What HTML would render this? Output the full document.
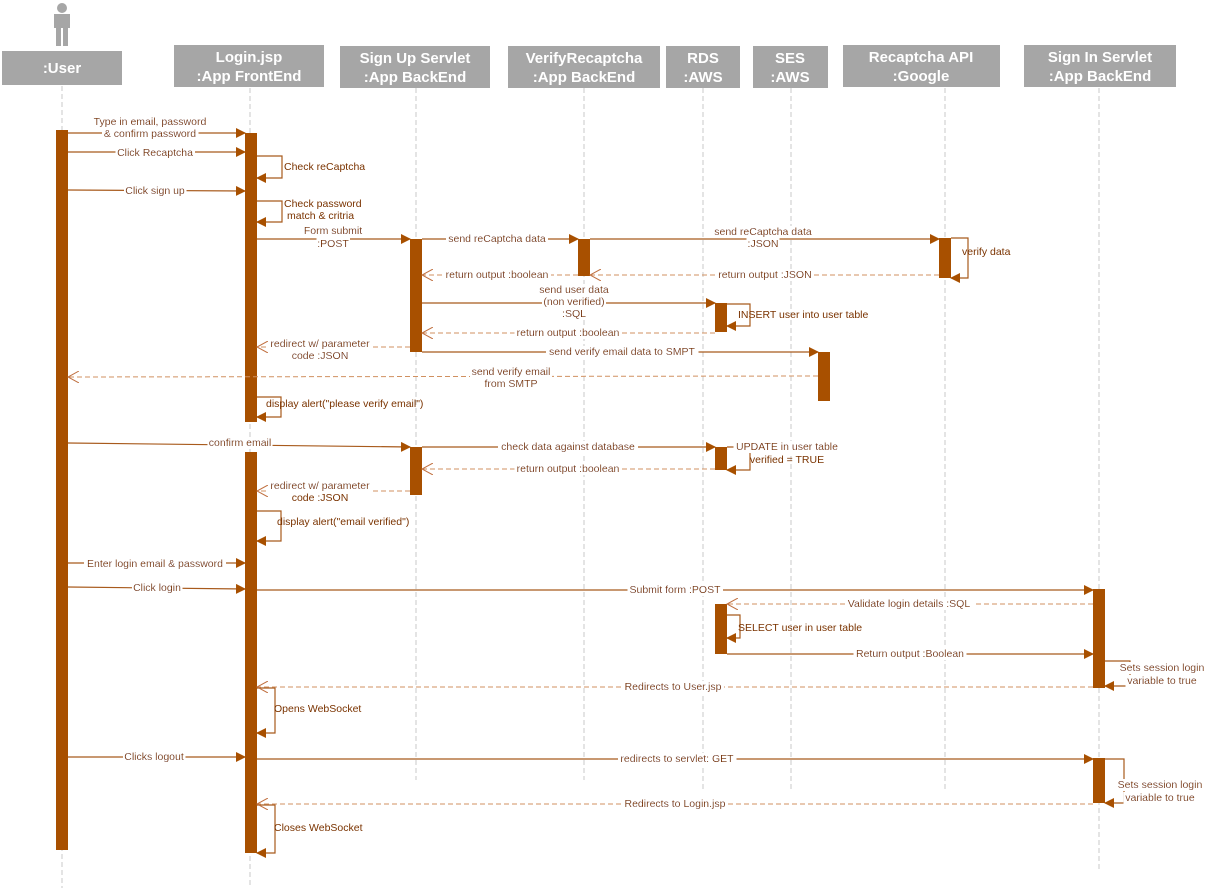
<!DOCTYPE html>
<html><head><meta charset="utf-8"><style>
html,body{margin:0;padding:0;background:#fff}
svg{display:block}
.h{font:bold 15px "Liberation Sans",sans-serif;fill:#fff;text-anchor:middle}
.t text{font:10.5px "Liberation Sans",sans-serif;fill:#7a3300;text-anchor:middle}
.t text.l{text-anchor:start}
.ll{stroke:#c8c8c8;stroke-width:1;stroke-dasharray:5,3}
.m{stroke:#a85a1c;stroke-width:1.2;fill:none}
.r{stroke:#d09060;stroke-width:1;stroke-dasharray:5,3;fill:none}
.a{fill:#a85000}
</style></head><body>
<svg width="1214" height="896" viewBox="0 0 1214 896" xmlns="http://www.w3.org/2000/svg">
<defs>
<marker id="f" markerWidth="10" markerHeight="10" refX="9" refY="5" orient="auto" markerUnits="userSpaceOnUse"><path d="M0,0 L10,5 L0,10z" fill="#a85000"/></marker>
<marker id="o" markerWidth="12" markerHeight="12" refX="11" refY="6" orient="auto" markerUnits="userSpaceOnUse"><path d="M0,0 L11,6 L0,12" fill="none" stroke="#c07040" stroke-width="1"/></marker>
<filter id="bg" x="-0.02" y="0" width="1.04" height="1"><feFlood flood-color="#fff"/><feComposite in="SourceGraphic" operator="over"/></filter>
</defs>
<!-- stick figure -->
<g fill="#a6a6a6"><circle cx="62" cy="8" r="5"/><rect x="54" y="14" width="16" height="14"/><rect x="56" y="28" width="5" height="18"/><rect x="63" y="28" width="5" height="18"/></g>
<!-- headers -->
<g fill="#a6a6a6">
<rect x="2" y="51" width="120" height="34"/><rect x="174" y="45" width="150" height="42"/><rect x="340" y="46" width="150" height="42"/>
<rect x="508" y="46" width="152" height="42"/><rect x="666" y="46" width="74" height="42"/><rect x="753" y="46" width="75" height="42"/>
<rect x="843" y="45" width="157" height="42"/><rect x="1024" y="45" width="152" height="42"/></g>
<text class="h" x="62" y="73">:User</text>
<text class="h" x="249" y="62">Login.jsp</text><text class="h" x="249" y="81">:App FrontEnd</text>
<text class="h" x="415" y="63">Sign Up Servlet</text><text class="h" x="415" y="82">:App BackEnd</text>
<text class="h" x="584" y="63">VerifyRecaptcha</text><text class="h" x="584" y="82">:App BackEnd</text>
<text class="h" x="703" y="63">RDS</text><text class="h" x="703" y="82">:AWS</text>
<text class="h" x="790" y="63">SES</text><text class="h" x="790" y="82">:AWS</text>
<text class="h" x="921" y="62">Recaptcha API</text><text class="h" x="921" y="81">:Google</text>
<text class="h" x="1100" y="62">Sign In Servlet</text><text class="h" x="1100" y="81">:App BackEnd</text>
<!-- lifelines -->
<line class="ll" x1="62" y1="86" x2="62" y2="888"/><line class="ll" x1="250" y1="88" x2="250" y2="888"/>
<line class="ll" x1="416" y1="88" x2="416" y2="780"/><line class="ll" x1="584" y1="88" x2="584" y2="780"/>
<line class="ll" x1="703" y1="88" x2="703" y2="790"/><line class="ll" x1="791" y1="88" x2="791" y2="790"/>
<line class="ll" x1="945" y1="88" x2="945" y2="790"/><line class="ll" x1="1099" y1="88" x2="1099" y2="870"/>
<!-- activations -->
<g class="a">
<rect x="56" y="130" width="12" height="720"/>
<rect x="245" y="133" width="12" height="289"/><rect x="245" y="452" width="12" height="401"/>
<rect x="410" y="239" width="12" height="113"/><rect x="410" y="447" width="12" height="48"/>
<rect x="578" y="239" width="12" height="37"/><rect x="939" y="238" width="12" height="40"/>
<rect x="715" y="303" width="12" height="29"/><rect x="715" y="447" width="12" height="23"/><rect x="715" y="604" width="12" height="50"/>
<rect x="818" y="352" width="12" height="49"/>
<rect x="1093" y="589" width="12" height="99"/><rect x="1093" y="758" width="12" height="45"/>
</g>
<!-- messages -->
<g class="m">
<line x1="68" y1="133" x2="245" y2="133" marker-end="url(#f)"/>
<line x1="68" y1="152" x2="245" y2="152" marker-end="url(#f)"/>
<polyline points="257,156 282,156 282,178 257,178" marker-end="url(#f)"/>
<line x1="68" y1="190" x2="245" y2="191" marker-end="url(#f)"/>
<polyline points="257,201 282,201 282,222 257,222" marker-end="url(#f)"/>
<line x1="257" y1="239" x2="410" y2="239" marker-end="url(#f)"/>
<line x1="422" y1="239" x2="578" y2="239" marker-end="url(#f)"/>
<line x1="590" y1="239" x2="939" y2="239" marker-end="url(#f)"/>
<polyline points="951,238 968,238 968,278 951,278" marker-end="url(#f)"/>
<line x1="422" y1="303" x2="715" y2="303" marker-end="url(#f)"/>
<polyline points="727,304 750,304 750,326 727,326" marker-end="url(#f)"/>
<line x1="422" y1="352" x2="818" y2="352" marker-end="url(#f)"/>
<polyline points="257,397 281,397 281,417 257,417" marker-end="url(#f)"/>
<line x1="68" y1="443" x2="410" y2="447" marker-end="url(#f)"/>
<line x1="422" y1="447" x2="715" y2="447" marker-end="url(#f)"/>
<polyline points="727,447 750,447 750,470 727,470" marker-end="url(#f)"/>
<polyline points="257,511 281,511 281,541 257,541" marker-end="url(#f)"/>
<line x1="68" y1="563" x2="245" y2="563" marker-end="url(#f)"/>
<line x1="68" y1="587" x2="245" y2="589" marker-end="url(#f)"/>
<line x1="257" y1="590" x2="1093" y2="590" marker-end="url(#f)"/>
<polyline points="727,615 740,615 740,638 727,638" marker-end="url(#f)"/>
<line x1="727" y1="654" x2="1093" y2="654" marker-end="url(#f)"/>
<polyline points="1105,661 1130,661 1130,686 1105,686" marker-end="url(#f)"/>
<polyline points="257,688 275,688 275,733 257,733" marker-end="url(#f)"/>
<line x1="68" y1="757" x2="245" y2="757" marker-end="url(#f)"/>
<line x1="257" y1="759" x2="1093" y2="759" marker-end="url(#f)"/>
<polyline points="1105,759 1124,759 1124,803 1105,803" marker-end="url(#f)"/>
<polyline points="257,805 275,805 275,853 257,853" marker-end="url(#f)"/>
</g>
<g class="r">
<line x1="939" y1="275" x2="590" y2="275" marker-end="url(#o)"/>
<line x1="578" y1="275" x2="422" y2="275" marker-end="url(#o)"/>
<line x1="715" y1="333" x2="422" y2="333" marker-end="url(#o)"/>
<line x1="410" y1="347" x2="257" y2="347" marker-end="url(#o)"/>
<line x1="818" y1="376" x2="68" y2="377" marker-end="url(#o)"/>
<line x1="715" y1="469" x2="422" y2="469" marker-end="url(#o)"/>
<line x1="410" y1="491" x2="257" y2="491" marker-end="url(#o)"/>
<line x1="1093" y1="604" x2="727" y2="604" marker-end="url(#o)"/>
<line x1="1093" y1="687" x2="257" y2="687" marker-end="url(#o)"/>
<line x1="1093" y1="804" x2="257" y2="804" marker-end="url(#o)"/>
</g>
<!-- labels -->
<g class="t" filter="none">
<text filter="url(#bg)" x="150" y="125">Type in email, password</text><text filter="url(#bg)" x="150" y="137">&amp; confirm password</text>
<text filter="url(#bg)" x="155" y="156">Click Recaptcha</text>
<text class="l" x="284" y="170">Check reCaptcha</text>
<text filter="url(#bg)" x="155" y="194">Click sign up</text>
<text class="l" x="284" y="207">Check password</text><text class="l" x="287" y="219">match &amp; critria</text>
<text filter="url(#bg)" x="333" y="234">Form submit</text><text filter="url(#bg)" x="333" y="247">:POST</text>
<text filter="url(#bg)" x="497" y="242">send reCaptcha data</text>
<text filter="url(#bg)" x="763" y="235">send reCaptcha data</text><text filter="url(#bg)" x="763" y="247">:JSON</text>
<text class="l" x="962" y="255">verify data</text>
<text filter="url(#bg)" x="765" y="278">return output :JSON</text>
<text filter="url(#bg)" x="497" y="278">return output :boolean</text>
<text filter="url(#bg)" x="574" y="293">send user data</text><text filter="url(#bg)" x="574" y="305">(non verified)</text><text filter="url(#bg)" x="574" y="317">:SQL</text>
<text class="l" x="738" y="318">INSERT user into user table</text>
<text filter="url(#bg)" x="568" y="336">return output :boolean</text>
<text filter="url(#bg)" x="320" y="347">redirect w/ parameter</text><text filter="url(#bg)" x="320" y="359">code :JSON</text>
<text filter="url(#bg)" x="622" y="355">send verify email data to SMPT</text>
<text filter="url(#bg)" x="511" y="375">send verify email</text><text filter="url(#bg)" x="511" y="387">from SMTP</text>
<text class="l" x="266" y="407">display alert("please verify email")</text>
<text filter="url(#bg)" x="240" y="446">confirm email</text>
<text filter="url(#bg)" x="568" y="450">check data against database</text>
<text filter="url(#bg)" x="787" y="450">UPDATE in user table</text><text x="787" y="463">verified = TRUE</text>
<text filter="url(#bg)" x="568" y="472">return output :boolean</text>
<text filter="url(#bg)" x="320" y="489">redirect w/ parameter</text><text x="320" y="501">code :JSON</text>
<text class="l" x="277" y="525">display alert("email verified")</text>
<text filter="url(#bg)" x="155" y="567">Enter login email &amp; password</text>
<text filter="url(#bg)" x="157" y="591">Click login</text>
<text filter="url(#bg)" x="675" y="593">Submit form :POST</text>
<text filter="url(#bg)" x="909" y="607">Validate login details :SQL</text>
<text class="l" x="738" y="631">SELECT user in user table</text>
<text filter="url(#bg)" x="910" y="657">Return output :Boolean</text>
<text filter="url(#bg)" x="1162" y="671">Sets session login</text><text filter="url(#bg)" x="1162" y="684">variable to true</text>
<text filter="url(#bg)" x="673" y="690">Redirects to User.jsp</text>
<text class="l" x="274" y="712">Opens WebSocket</text>
<text filter="url(#bg)" x="154" y="760">Clicks logout</text>
<text filter="url(#bg)" x="677" y="762">redirects to servlet: GET</text>
<text filter="url(#bg)" x="1160" y="788">Sets session login</text><text filter="url(#bg)" x="1160" y="801">variable to true</text>
<text filter="url(#bg)" x="675" y="807">Redirects to Login.jsp</text>
<text class="l" x="274" y="831">Closes WebSocket</text>
</g>
</svg>
</body></html>
